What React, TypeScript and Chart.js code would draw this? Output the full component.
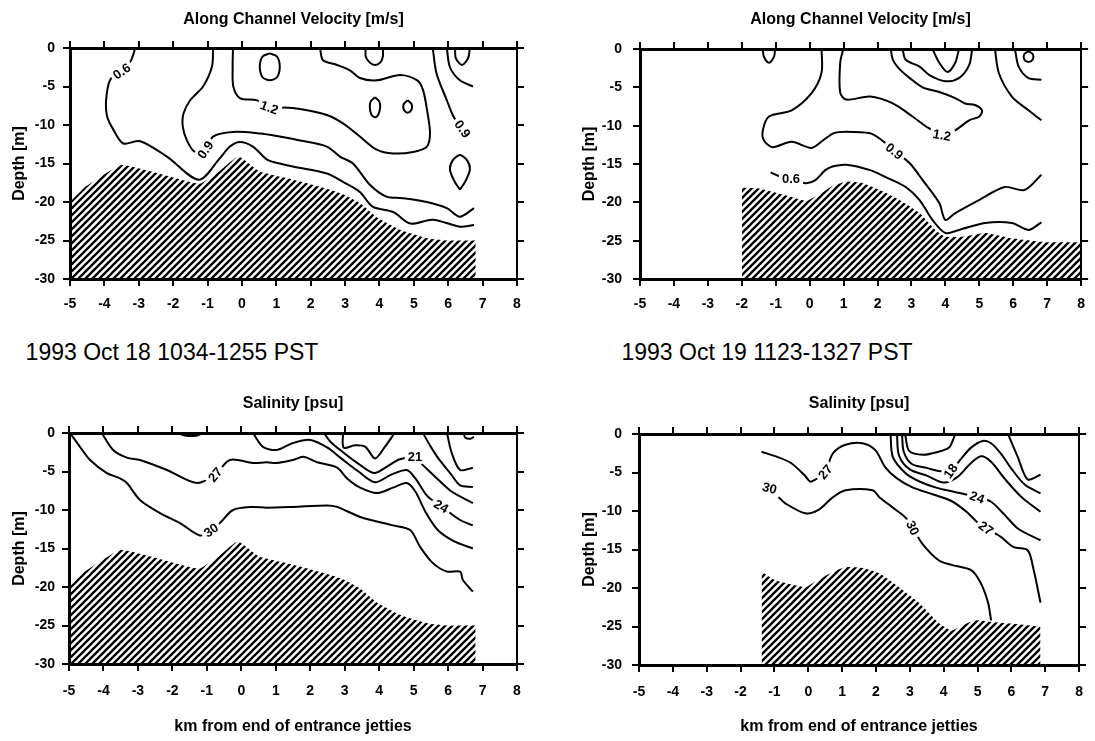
import React, { useEffect, useRef } from 'react';
import { Chart, registerables } from 'chart.js';

Chart.register(...registerables);

type Pt = [number, number];
type Lbl = { t: string; x: number; y: number; r: number };

// ---------- axis ticks ----------
const X_TICKS = [-5, -4, -3, -2, -1, 0, 1, 2, 3, 4, 5, 6, 7, 8];
const Y_TICKS = [-30, -25, -20, -15, -10, -5, 0];

// ---------- 1993 Oct 18 : bathymetry ----------
const BATHY_OCT18: Pt[] = [[-5, -20], [-4.6, -18.2], [-4.1, -16.7], [-3.5, -15.2], [-2.5, -16.2], [-1.6, -17.3], [-1.2, -17.6], [-0.6, -15.8], [-0.1, -14.1], [0.5, -16.0], [1.5, -17.1], [2.5, -18.3], [2.95, -19.0], [3.45, -20.2], [3.9, -21.9], [4.6, -23.6], [5.4, -24.7], [6.0, -25.0], [6.8, -25.0]];

// ---------- 1993 Oct 18 : along-channel velocity contours ----------
const V18_C06: Pt[] = [[-3.1, 0], [-3.25, -1.8], [-3.55, -2.9], [-3.84, -4.2], [-3.95, -6.8], [-3.92, -8.9], [-3.74, -10.6], [-3.45, -12.4], [-2.96, -12.1], [-2.18, -14.1], [-1.25, -17.1], [-0.64, -14.3], [-0.35, -12.8], [-0.06, -12.2], [0.32, -12.8], [0.73, -14.5], [1.1, -15.0], [1.48, -15.4], [2.47, -16.3], [2.94, -17.4], [3.43, -18.7], [3.8, -20.6], [4.4, -21.3], [4.9, -22.8], [5.55, -22.3], [6.34, -23.2], [6.75, -23.0]];
const V18_C09A: Pt[] = [[-0.84, 0], [-0.87, -2.4], [-1.13, -5.0], [-1.5, -6.75], [-1.7, -8.5], [-1.72, -10.2], [-1.6, -12.0], [-1.37, -13.5], [-1.05, -13.2], [-0.84, -11.5], [-0.26, -10.9], [0.53, -11.1], [1.1, -11.5], [1.69, -12.0], [2.47, -12.8], [2.85, -14.1], [3.23, -15.0], [3.73, -17.8], [4.2, -19.3], [4.68, -19.5], [5.38, -20.0], [5.96, -20.8], [6.34, -21.9], [6.75, -20.8]];
const V18_C12: Pt[] = [[-0.26, 0], [-0.27, -2.5], [-0.25, -5.0], [-0.06, -6.5], [0.44, -6.8], [0.77, -7.6], [1.48, -7.8], [2.47, -8.7], [2.94, -9.8], [3.43, -11.5], [3.92, -13.2], [4.4, -13.7], [4.98, -13.5], [5.38, -12.8], [5.47, -11.1], [5.4, -8.5], [5.27, -5.5], [5.1, -4.2], [4.6, -3.5], [3.92, -4.2], [3.43, -3.9], [3.14, -2.9], [2.77, -2.2], [2.36, -1.6], [2.27, 0]];
const V18_C09B: Pt[] = [[5.55, 0], [5.66, -3.3], [5.96, -6.8], [6.13, -8.7], [6.25, -9.6]];
const V18_C06R: Pt[] = [[5.96, 0], [6.05, -2.5], [6.34, -4.2], [6.72, -5.0]];
const V18_OVAL1: Pt[] = [[0.81, -0.7], [1.02, -1.1], [1.1, -2.45], [1.02, -3.8], [0.81, -4.2], [0.6, -3.8], [0.52, -2.45], [0.6, -1.1], [0.81, -0.7]];
const V18_OVAL2: Pt[] = [[3.6, 0], [3.6, -1.1], [3.72, -1.9], [3.87, -2.2], [4.02, -1.9], [4.1, -1.1], [4.1, 0]];
const V18_OVAL3: Pt[] = [[3.87, -6.4], [3.99, -6.9], [4.02, -7.7], [3.97, -8.6], [3.87, -9.0], [3.76, -8.6], [3.72, -7.7], [3.75, -6.9], [3.87, -6.4]];
const V18_OVAL4: Pt[] = [[4.82, -6.8], [4.92, -7.2], [4.95, -7.6], [4.92, -8.1], [4.82, -8.4], [4.72, -8.1], [4.69, -7.6], [4.72, -7.2], [4.82, -6.8]];
const V18_OVAL5: Pt[] = [[6.2, 0], [6.22, -1.3], [6.4, -2.2], [6.58, -1.3], [6.63, 0]];
const V18_OVAL6: Pt[] = [[6.34, -18.4], [6.5, -17.3], [6.63, -15.8], [6.55, -14.6], [6.34, -13.9], [6.13, -14.6], [6.05, -15.8], [6.18, -17.3], [6.34, -18.4]];
const V18_LABELS: Lbl[] = [
  { t: '0.6', x: -3.5, y: -3.0, r: -35 },
  { t: '0.9', x: -1.07, y: -13.2, r: -55 },
  { t: '1.2', x: 0.8, y: -7.7, r: 20 },
  { t: '0.9', x: 6.42, y: -10.5, r: 55 },
];

// ---------- 1993 Oct 19 : bathymetry ----------
const BATHY_OCT19_VEL: Pt[] = [[-2, -18.1], [-1.5, -18.2], [-0.53, -19.3], [-0.1, -19.8], [0.3, -18.9], [0.7, -17.8], [1.08, -17.3], [1.57, -17.5], [2.07, -18.4], [2.65, -19.7], [3.24, -21.4], [3.7, -23.6], [4.0, -24.5], [4.5, -24.5], [5.17, -24.0], [5.96, -24.7], [6.92, -25.2], [8, -25.2]];
const BATHY_OCT19_SAL: Pt[] = [[-1.38, -17.9], [-0.97, -19.0], [-0.09, -19.9], [0.2, -19.2], [0.73, -17.9], [1.1, -17.3], [1.6, -17.4], [2.1, -18.1], [2.68, -19.9], [3.27, -21.9], [3.85, -24.5], [4.23, -25.5], [4.73, -24.5], [5.02, -24.2], [5.4, -24.4], [5.98, -24.6], [6.86, -25.0]];

// ---------- 1993 Oct 19 : along-channel velocity contours ----------
const V19_U1: Pt[] = [[-1.38, 0], [-1.35, -1.0], [-1.2, -1.8], [-1.05, -1.0], [-1.02, 0]];
const V19_C09: Pt[] = [[0.35, 0], [0.35, -3.1], [0.05, -5.8], [-0.53, -8.0], [-1.2, -8.8], [-1.38, -10.6], [-1.35, -11.9], [-1.1, -12.8], [-0.53, -12.1], [0.05, -12.9], [0.4, -11.9], [0.7, -11.0], [1.08, -10.8], [1.78, -11.0], [2.1, -11.8], [2.5, -13.3], [2.95, -14.9], [3.33, -17.1], [3.82, -20.1], [4.0, -22.3], [4.29, -21.4], [4.99, -19.7], [5.75, -18.0], [6.33, -18.4], [6.83, -16.4]];
const V19_C06: Pt[] = [[-1.15, -16.1], [-0.95, -16.5], [-0.55, -16.9], [-0.12, -17.5], [0.17, -17.1], [0.46, -15.8], [0.7, -15.3], [1.08, -15.1], [1.78, -15.8], [2.24, -16.7], [2.83, -18.0], [3.24, -19.7], [3.62, -22.3], [4.0, -24.0], [4.4, -23.6], [5.17, -22.7], [5.96, -22.7], [6.45, -23.6], [6.83, -22.6]];
const V19_C12: Pt[] = [[0.99, 0], [0.9, -1.8], [0.9, -5.7], [1.08, -6.6], [1.78, -6.2], [2.45, -7.1], [3.03, -8.8], [3.5, -10.3], [3.9, -11.2], [4.29, -10.6], [4.7, -9.3], [5.0, -8.8], [5.08, -8.0], [4.87, -7.3], [4.58, -7.1], [4.29, -6.4], [3.82, -5.6], [3.33, -5.0], [2.95, -3.8], [2.62, -2.5], [2.45, -1.4], [2.39, 0]];
const V19_U2: Pt[] = [[2.74, 0], [2.83, -1.4], [3.24, -2.3], [3.53, -3.4], [4.0, -4.2], [4.4, -3.8], [4.7, -2.1], [4.79, 0]];
const V19_U3: Pt[] = [[3.62, 0], [3.82, -1.8], [4.06, -3.0], [4.29, -1.8], [4.4, 0]];
const V19_R1: Pt[] = [[5.46, 0], [5.58, -3.2], [5.96, -6.2], [6.45, -8.0], [6.83, -9.3]];
const V19_R2: Pt[] = [[6.05, 0], [6.16, -2.3], [6.45, -3.8], [6.83, -4.0]];
const V19_OVAL: Pt[] = [[6.45, -0.3], [6.58, -0.7], [6.57, -1.4], [6.45, -1.7], [6.33, -1.4], [6.32, -0.7], [6.45, -0.3]];
const V19_LABELS: Lbl[] = [
  { t: '0.6', x: -0.55, y: -16.9, r: 0 },
  { t: '0.9', x: 2.5, y: -13.3, r: 40 },
  { t: '1.2', x: 3.9, y: -11.2, r: 10 },
];

// ---------- 1993 Oct 18 : salinity contours ----------
const S18_C30: Pt[] = [[-4.97, 0], [-4.68, -1.8], [-4.39, -3.5], [-3.9, -5.2], [-3.52, -5.9], [-3.32, -6.5], [-2.94, -8.7], [-2.36, -10.4], [-1.78, -11.7], [-1.2, -13.3], [-0.88, -12.6], [-0.62, -11.7], [-0.24, -10.0], [0.33, -9.6], [0.74, -9.7], [1.5, -9.6], [2.49, -9.4], [2.78, -9.6], [3.45, -10.9], [4.4, -12.0], [4.9, -12.6], [5.19, -14.8], [5.56, -16.9], [5.97, -18.0], [6.35, -18.0], [6.43, -19.1], [6.72, -20.6]];
const S18_C27: Pt[] = [[-4.05, 0], [-3.72, -2.2], [-3.32, -3.2], [-2.94, -3.5], [-2.16, -4.8], [-1.29, -6.5], [-0.76, -5.4], [-0.33, -3.5], [0.34, -3.9], [0.74, -3.8], [1.03, -3.9], [1.5, -3.5], [1.8, -3.1], [2.2, -3.8], [2.78, -4.5], [3.07, -5.9], [3.45, -7.1], [3.94, -7.8], [4.4, -7.1], [4.8, -6.5], [5.05, -7.6], [5.35, -10.3], [5.7, -12.6], [6.15, -14.0], [6.72, -15.0]];
const S18_C24: Pt[] = [[0.34, 0], [0.63, -1.8], [1.03, -2.2], [1.5, -1.3], [2.0, -0.9], [2.5, -1.9], [2.9, -3.3], [3.4, -5.0], [3.88, -6.4], [4.35, -5.4], [4.8, -4.8], [5.05, -5.9], [5.4, -8.2], [5.8, -9.5], [6.35, -11.3], [6.72, -12.0]];
const S18_C21: Pt[] = [[2.4, 0], [2.6, -1.2], [2.95, -2.5], [3.4, -4.0], [3.85, -5.2], [4.25, -4.3], [4.6, -3.4], [5.04, -3.2], [5.3, -4.3], [5.7, -6.0], [6.1, -7.6], [6.72, -9.1]];
const S18_C18A: Pt[] = [[2.95, 0], [2.97, -1.9], [3.3, -1.6], [3.6, -1.8], [3.88, -3.3], [4.15, -1.9], [4.45, 0]];
const S18_C18B: Pt[] = [[5.27, 0], [5.5, -1.8], [5.75, -3.5], [6.06, -5.2], [6.35, -6.8], [6.72, -7.0]];
const S18_C15: Pt[] = [[5.97, 0], [6.1, -2.5], [6.35, -4.8], [6.72, -4.5]];
const S18_POCKET1: Pt[] = [[6.45, 0], [6.5, -0.6], [6.65, -0.75], [6.75, -0.5]];
const S18_POCKET2: Pt[] = [[-1.85, 0], [-1.6, -0.35], [-1.3, -0.35], [-1.1, 0]];
const S18_LABELS: Lbl[] = [
  { t: '27', x: -0.76, y: -5.4, r: -50 },
  { t: '30', x: -0.88, y: -12.6, r: -35 },
  { t: '21', x: 5.04, y: -3.1, r: 0 },
  { t: '24', x: 5.8, y: -9.5, r: 30 },
];

// ---------- 1993 Oct 19 : salinity contours ----------
const S19_C27: Pt[] = [[-1.38, -2.3], [-0.9, -3.0], [-0.5, -3.8], [-0.1, -5.4], [0.08, -6.2], [0.5, -4.8], [0.73, -2.5], [1.1, -1.4], [1.6, -1.2], [1.98, -2.1], [2.27, -4.3], [2.6, -5.7], [3.06, -6.9], [3.65, -7.8], [4.23, -8.7], [4.7, -10.2], [5.0, -11.5], [5.25, -12.2], [5.7, -13.4], [6.07, -14.7], [6.48, -15.1], [6.65, -17.5], [6.86, -21.9]];
const S19_C30: Pt[] = [[-0.88, -8.2], [-0.68, -9.0], [-0.09, -10.3], [0.29, -9.9], [0.73, -8.2], [1.1, -7.3], [1.9, -7.3], [2.1, -8.2], [2.48, -9.5], [2.86, -10.8], [3.09, -12.2], [3.36, -14.2], [3.85, -16.4], [4.23, -17.0], [4.82, -17.7], [5.1, -19.4], [5.31, -21.9], [5.4, -24.2]];
const S19_C24: Pt[] = [[2.43, 0], [2.5, -3.0], [2.9, -5.2], [3.3, -6.2], [3.8, -7.0], [4.3, -7.5], [4.99, -8.2], [5.4, -8.8], [5.8, -10.5], [6.2, -12.3], [6.86, -13.8]];
const S19_C21: Pt[] = [[2.62, 0], [2.68, -2.8], [3.0, -4.6], [3.5, -5.4], [4.0, -6.3], [4.4, -5.6], [4.8, -3.8], [5.1, -2.9], [5.4, -3.6], [5.8, -5.8], [6.3, -8.2], [6.86, -10.1]];
const S19_C18: Pt[] = [[2.77, 0], [2.82, -2.3], [3.06, -3.9], [3.5, -4.4], [3.85, -4.8], [4.2, -4.8], [4.5, -3.3], [4.8, -1.8], [5.15, -0.9], [5.4, -1.2], [5.7, -2.6], [6.0, -4.5], [6.4, -6.6], [6.86, -7.7]];
const S19_C15: Pt[] = [[5.9, 0], [6.19, -3.0], [6.48, -5.9], [6.86, -5.3]];
const S19_U: Pt[] = [[2.86, 0], [2.98, -2.2], [3.4, -2.7], [3.85, -2.3], [4.15, -1.8], [4.3, -0.5], [4.33, 0]];
const S19_LABELS: Lbl[] = [
  { t: '27', x: 0.5, y: -4.9, r: -50 },
  { t: '30', x: -1.14, y: -7.0, r: 15 },
  { t: '18', x: 4.2, y: -4.8, r: -55 },
  { t: '24', x: 4.99, y: -8.2, r: 20 },
  { t: '27', x: 5.25, y: -12.2, r: 35 },
  { t: '30', x: 3.09, y: -12.2, r: 65 },
];

// ---------- text ----------
const TITLE_VEL = 'Along Channel Velocity [m/s]';
const TITLE_SAL = 'Salinity [psu]';
const Y_TITLE = 'Depth [m]';
const X_TITLE = 'km from end of entrance jetties';
const DATE_LEFT = '1993 Oct 18 1034-1255 PST';
const DATE_RIGHT = '1993 Oct 19 1123-1327 PST';

const FONT = '"Liberation Sans", Arial, Helvetica, sans-serif';

interface PanelSpec {
  title: string;
  lines: Pt[][];
  bathy: Pt[];
  labels: Lbl[];
  xTitle: boolean;
  left: number;
  top: number;
  width: number;
  height: number;
  area: { left: number; right: number; top: number; bottom: number };
  titlePadTop: number;
  yTitleCenter: number;
  yTickPad: number;
  xTickPad: number;
  xTitlePadBottom: number;
}

const PANELS: PanelSpec[] = [
  {
    title: TITLE_VEL,
    lines: [V18_C06, V18_C09A, V18_C12, V18_C09B, V18_C06R, V18_OVAL1, V18_OVAL2, V18_OVAL3, V18_OVAL4, V18_OVAL5, V18_OVAL6],
    bathy: BATHY_OCT18, labels: V18_LABELS, xTitle: false,
    left: 0, top: 0, width: 548, height: 322,
    area: { left: 70, right: 517, top: 48, bottom: 279 },
    titlePadTop: 10, yTitleCenter: 20, yTickPad: 8, xTickPad: 10, xTitlePadBottom: 0,
  },
  {
    title: TITLE_VEL,
    lines: [V19_U1, V19_C09, V19_C06, V19_C12, V19_U2, V19_U3, V19_R1, V19_R2, V19_OVAL],
    bathy: BATHY_OCT19_VEL, labels: V19_LABELS, xTitle: false,
    left: 548, top: 0, width: 547, height: 322,
    area: { left: 92, right: 537, top: 49, bottom: 279 },
    titlePadTop: 10, yTitleCenter: 42, yTickPad: 11, xTickPad: 10, xTitlePadBottom: 0,
  },
  {
    title: TITLE_SAL,
    lines: [S18_C30, S18_C27, S18_C24, S18_C21, S18_C18A, S18_C18B, S18_C15, S18_POCKET1, S18_POCKET2],
    bathy: BATHY_OCT18, labels: S18_LABELS, xTitle: true,
    left: 0, top: 378, width: 548, height: 363,
    area: { left: 69, right: 517, top: 55, bottom: 286 },
    titlePadTop: 16.4, yTitleCenter: 20, yTickPad: 7, xTickPad: 12, xTitlePadBottom: 4.4,
  },
  {
    title: TITLE_SAL,
    lines: [S19_C27, S19_C30, S19_C24, S19_C21, S19_C18, S19_C15, S19_U],
    bathy: BATHY_OCT19_SAL, labels: S19_LABELS, xTitle: true,
    left: 548, top: 378, width: 547, height: 363,
    area: { left: 91, right: 536, top: 56, bottom: 287 },
    titlePadTop: 16.4, yTitleCenter: 42, yTickPad: 10, xTickPad: 12, xTitlePadBottom: 4.4,
  },
];

function makeHatch(): CanvasPattern | string {
  const c = document.createElement('canvas');
  const s = 7;
  c.width = s;
  c.height = s;
  const g = c.getContext('2d');
  if (!g) return '#888';
  g.strokeStyle = '#000';
  g.lineWidth = 2.3;
  g.beginPath();
  g.moveTo(-2, s + 2);
  g.lineTo(s + 2, -2);
  g.moveTo(-2, 2);
  g.lineTo(2, -2);
  g.moveTo(s - 2, s + 2);
  g.lineTo(s + 2, s - 2);
  g.stroke();
  return g.createPattern(c, 'repeat') || '#888';
}

function labelPlugin(labels: Lbl[]) {
  return {
    id: 'contourLabels',
    afterDatasetsDraw(chart: any) {
      const { ctx, scales } = chart;
      const xs = scales.x;
      const ys = scales.y;
      ctx.save();
      ctx.font = `bold 13px ${FONT}`;
      ctx.textAlign = 'center';
      ctx.textBaseline = 'middle';
      for (const l of labels) {
        const px = xs.getPixelForValue(l.x);
        const py = ys.getPixelForValue(l.y);
        ctx.save();
        ctx.translate(px, py);
        ctx.rotate((l.r * Math.PI) / 180);
        const w = ctx.measureText(l.t).width;
        ctx.fillStyle = '#fff';
        ctx.fillRect(-w / 2 - 3, -7, w + 6, 14);
        ctx.fillStyle = '#000';
        ctx.fillText(l.t, 0, 1);
        ctx.restore();
      }
      ctx.restore();
    },
  };
}

function makeConfig(p: PanelSpec, hatch: CanvasPattern | string): any {
  const toXY = (pts: Pt[]) => pts.map(([x, y]) => ({ x, y }));
  const datasets: any[] = p.lines.map((pts) => ({
    data: toXY(pts),
    borderColor: '#000',
    borderWidth: 2,
    pointRadius: 0,
    tension: 0.3,
    fill: false,
  }));
  datasets.push({
    data: toXY(p.bathy),
    borderColor: 'rgba(0,0,0,0)',
    borderWidth: 0,
    pointRadius: 0,
    tension: 0.15,
    fill: 'start',
    backgroundColor: hatch,
  });

  const tickFont = { family: FONT, size: 14, weight: 'bold' as const };
  const grid = { drawOnChartArea: false, drawTicks: true, tickLength: 7, lineWidth: 2, color: '#000' };
  const titleFontSize = 16;
  const titleH = titleFontSize * 1.2 + p.titlePadTop;
  const xTicks = (s: any) => { s.ticks = X_TICKS.map((v) => ({ value: v })); };
  const yTicks = (s: any) => { s.ticks = Y_TICKS.map((v) => ({ value: v })); };

  return {
    type: 'line',
    data: { datasets },
    plugins: [labelPlugin(p.labels)],
    options: {
      responsive: false,
      animation: false,
      events: [],
      devicePixelRatio: 1,
      layout: { padding: 0 },
      plugins: {
        legend: { display: false },
        tooltip: { enabled: false },
        title: {
          display: true,
          text: p.title,
          fullSize: false,
          color: '#000',
          font: { family: FONT, size: titleFontSize, weight: 'bold' },
          padding: { top: p.titlePadTop, bottom: 0 },
        },
      },
      scales: {
        x: {
          type: 'linear', position: 'bottom', min: -5, max: 8,
          afterBuildTicks: xTicks,
          ticks: { font: tickFont, color: '#000', padding: p.xTickPad, autoSkip: false, maxRotation: 0, callback: (v: number) => String(v) },
          grid,
          border: { display: true, width: 3, color: '#000' },
          title: {
            display: p.xTitle, text: X_TITLE, color: '#000',
            font: { family: FONT, size: 16, weight: 'bold' },
            padding: { top: 0, bottom: p.xTitlePadBottom },
          },
          afterFit: (s: any) => { s.height = p.height - p.area.bottom; },
        },
        x2: {
          type: 'linear', position: 'top', min: -5, max: 8,
          afterBuildTicks: xTicks,
          ticks: { display: false },
          grid,
          border: { display: true, width: 3, color: '#000' },
          afterFit: (s: any) => { s.height = p.area.top - titleH; },
        },
        y: {
          type: 'linear', position: 'left', min: -30, max: 0,
          afterBuildTicks: yTicks,
          ticks: { font: tickFont, color: '#000', padding: p.yTickPad, callback: (v: number) => String(v) },
          grid,
          border: { display: true, width: 3, color: '#000' },
          title: {
            display: true, text: Y_TITLE, color: '#000',
            font: { family: FONT, size: 16, weight: 'bold' },
            padding: { top: p.yTitleCenter - 9.6, bottom: 0 },
          },
          afterFit: (s: any) => { s.width = p.area.left; },
        },
        y2: {
          type: 'linear', position: 'right', min: -30, max: 0,
          afterBuildTicks: yTicks,
          ticks: { display: false },
          grid,
          border: { display: true, width: 2, color: '#000' },
          afterFit: (s: any) => { s.width = p.width - p.area.right; },
        },
      },
    },
  };
}

function Panel({ spec }: { spec: PanelSpec }) {
  const ref = useRef<HTMLCanvasElement>(null);
  useEffect(() => {
    const canvas = ref.current;
    if (!canvas) return;
    const chart = new Chart(canvas, makeConfig(spec, makeHatch()));
    return () => chart.destroy();
  }, [spec]);
  return (
    <canvas
      ref={ref}
      width={spec.width}
      height={spec.height}
      style={{ position: 'absolute', left: spec.left, top: spec.top, width: spec.width, height: spec.height }}
    />
  );
}

export default function App() {
  const dateStyle: React.CSSProperties = {
    position: 'absolute', top: 338, fontSize: 23, lineHeight: '28px', textAlign: 'center',
    whiteSpace: 'nowrap', color: '#000', fontFamily: FONT,
  };
  return (
    <div style={{ position: 'absolute', left: 0, top: 0, width: 1095, height: 741, background: '#fff', overflow: 'hidden' }}>
      {PANELS.map((p, i) => (
        <Panel key={i} spec={p} />
      ))}
      <div style={{ ...dateStyle, left: 0, width: 344 }}>{DATE_LEFT}</div>
      <div style={{ ...dateStyle, left: 567, width: 400 }}>{DATE_RIGHT}</div>
    </div>
  );
}
